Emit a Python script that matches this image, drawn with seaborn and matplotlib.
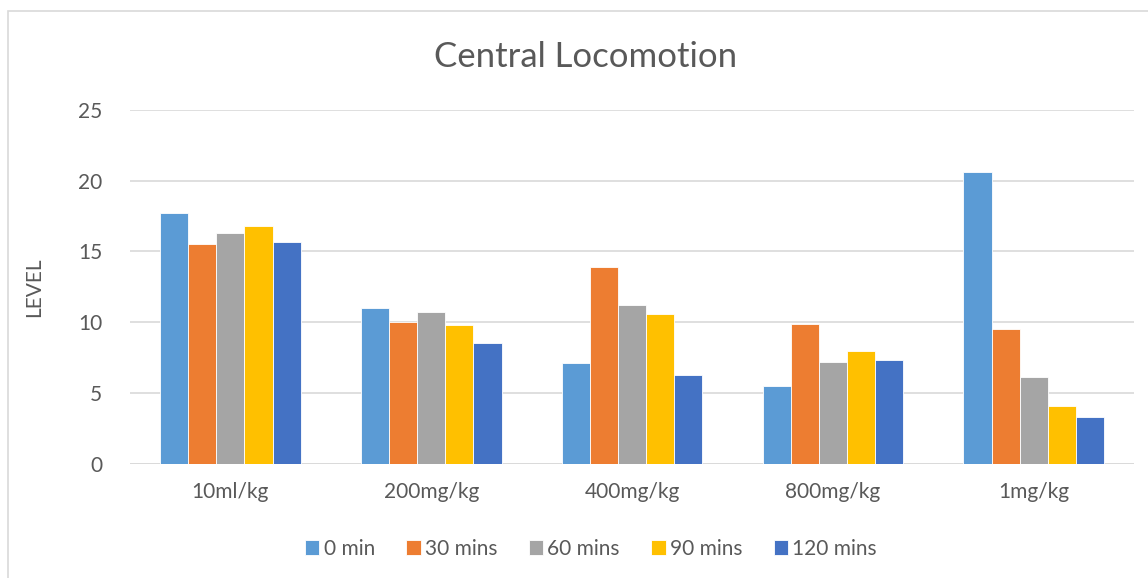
import pandas as pd
import numpy as np
import matplotlib
matplotlib.use("Agg")
import matplotlib.pyplot as plt
import seaborn as sns
from matplotlib.patches import Rectangle

# values
doses = ['10ml/kg', '200mg/kg', '400mg/kg', '800mg/kg', '1mg/kg']
times = ['0 min', '30 mins', '60 mins', '90 mins', '120 mins']
min0 = [17.7, 11.0, 7.1, 5.5, 20.6]
min30 = [15.5, 10.0, 13.9, 9.9, 9.5]
min60 = [16.3, 10.7, 11.2, 7.2, 6.1]
min90 = [16.8, 9.8, 10.6, 8.0, 4.1]
min120 = [15.7, 8.5, 6.3, 7.3, 3.3]
colors = ['#5B9BD5', '#ED7D31', '#A5A5A5', '#FFC000', '#4472C4']

series = [min0, min30, min60, min90, min120]
rows = []
for t, vals in zip(times, series):
    for d, v in zip(doses, vals):
        rows.append({'dose': d, 'time': t, 'level': v})
df = pd.DataFrame(rows)

sns.set_theme(style="white")
plt.rcParams['font.family'] = ['Lato', 'DejaVu Sans']
text_col = '#595959'
grid_col = '#d9d9d9'

fig = plt.figure(figsize=(11.48, 5.78), dpi=100, facecolor='white')
ax = fig.add_axes([0.1132, 0.1977, 0.8748, 0.612])

sns.barplot(data=df, x='dose', y='level', hue='time', order=doses, hue_order=times,
            palette=colors, width=0.7, saturation=1, ax=ax, zorder=3,
            edgecolor='white', linewidth=0.6)

ax.set_ylim(0, 25)
ax.set_yticks([0, 5, 10, 15, 20, 25])
ax.set_xlim(-0.5, len(doses) - 0.5)
ax.yaxis.grid(True, color=grid_col, linewidth=1.2, zorder=0)
ax.set_axisbelow(True)
for s in ['top', 'right', 'left', 'bottom']:
    ax.spines[s].set_visible(False)
ax.axhline(0, color=grid_col, linewidth=1.2, zorder=2)

ax.tick_params(axis='both', length=0, labelsize=15, labelcolor=text_col)
ax.tick_params(axis='y', pad=20)
ax.tick_params(axis='x', pad=13)
ax.set_xlabel('')
ax.set_ylabel('LEVEL', fontsize=15, color=text_col, labelpad=24)

fig.text(0.51, 0.902, 'Central Locomotion', ha='center', va='center',
         fontsize=25, color=text_col)

leg = ax.legend(loc='center', bbox_to_anchor=(0.459, -0.24), ncol=5, frameon=False,
                fontsize=15, handlelength=0.7, handleheight=0.7, handletextpad=0.2,
                columnspacing=1.5, labelcolor=text_col)

# outer chart border
fig.patches.append(Rectangle((8 / 1148, -0.1), 1.2, 1 - 11 / 578 + 0.1,
                             transform=fig.transFigure, fill=False,
                             edgecolor=grid_col, linewidth=1.2))

plt.savefig('out.png', dpi=100)
